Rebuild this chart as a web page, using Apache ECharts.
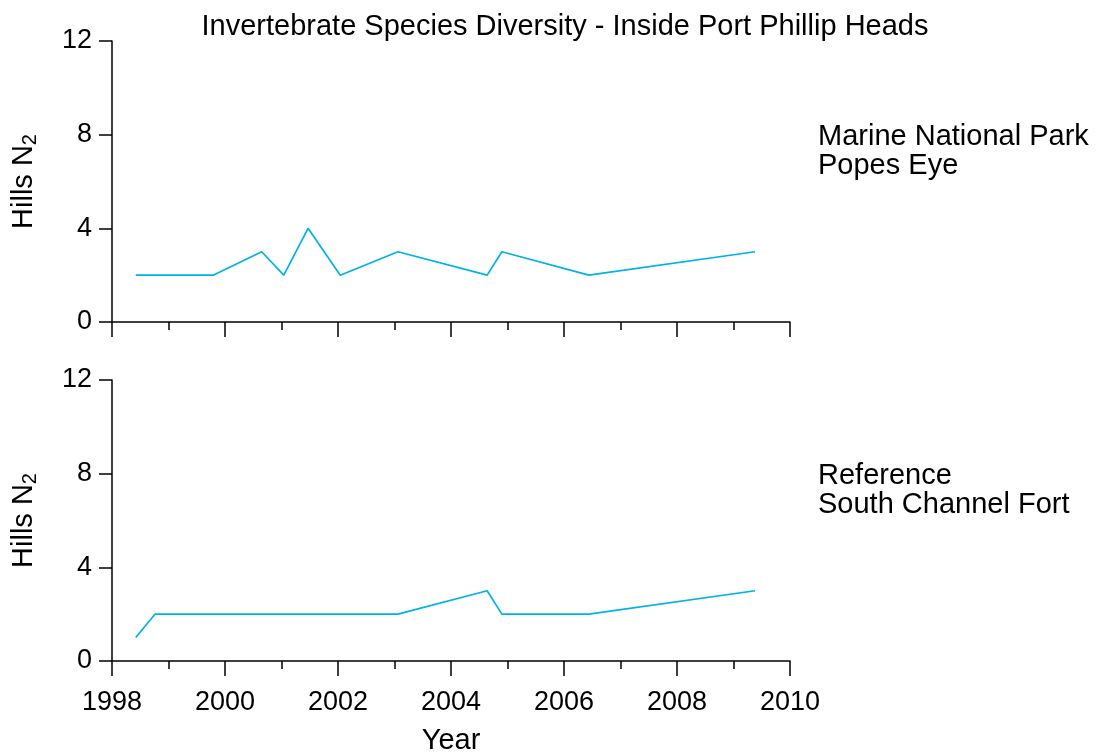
<!DOCTYPE html>
<html>
<head>
<meta charset="utf-8">
<title>Invertebrate Species Diversity</title>
<script src="https://cdn.jsdelivr.net/npm/echarts@6/dist/echarts.min.js"></script>
<style>
  html, body { margin: 0; padding: 0; background: #fff; }
  #chart { width: 1099px; height: 756px; }
</style>
</head>
<body>
<div id="chart"></div>
<script>
// Survey dates (decimal years) and Hills N2 diversity at each site
const surveyYears = [1998.42, 1998.76, 1999.43, 1999.79, 2000.65, 2001.04, 2001.47, 2002.04, 2003.06, 2004.64, 2004.90, 2006.44, 2009.38];
const popesEye = [2, 2, 2, 2, 3, 2, 4, 2, 3, 2, 3, 2, 3];
const southChannelFort = [1, 2, 2, 2, 2, 2, 2, 2, 2, 3, 2, 2, 3];

const chartTitle = 'Invertebrate Species Diversity - Inside Port Phillip Heads';
const panelLabels = ['Marine National Park\nPopes Eye', 'Reference\nSouth Channel Fort'];
const xTickLabels = ['1998', '2000', '2002', '2004', '2006', '2008', '2010'];
const yTickLabels = ['0', '4', '8', '12'];

const FONT = '"Liberation Sans", Arial, Helvetica, sans-serif';
const TEXT_SIZE = 29;
const TICK_SIZE = 27;
const LINE_COLOR = '#00b2e6';

function pairs(xs, ys) {
  return xs.map((x, i) => [x, ys[i]]);
}

function xAxisFor(gridIndex, showLabels) {
  return {
    type: 'value',
    gridIndex: gridIndex,
    min: 1998,
    max: 2010,
    interval: 2,
    axisLine: { show: true, onZero: false, lineStyle: { color: '#000', width: 1.5 } },
    axisTick: { show: true, inside: false, length: 15, lineStyle: { color: '#000', width: 1.5 } },
    minorTick: { show: true, splitNumber: 2, length: 8, lineStyle: { color: '#000', width: 1.5 } },
    splitLine: { show: false },
    minorSplitLine: { show: false },
    axisLabel: {
      show: showLabels,
      margin: 28,
      fontFamily: FONT,
      fontSize: TICK_SIZE,
      color: '#000',
      formatter: v => xTickLabels.includes(String(v)) ? String(v) : ''
    },
    name: showLabels ? 'Year' : '',
    nameLocation: 'middle',
    nameGap: 65,
    nameTextStyle: { fontFamily: FONT, fontSize: TEXT_SIZE, color: '#000' }
  };
}

function yAxisFor(gridIndex) {
  return {
    type: 'value',
    gridIndex: gridIndex,
    min: 0,
    max: 12,
    interval: 4,
    axisLine: { show: true, onZero: false, lineStyle: { color: '#000', width: 1.5 } },
    axisTick: { show: true, inside: false, length: 13, lineStyle: { color: '#000', width: 1.5 } },
    splitLine: { show: false },
    axisLabel: {
      margin: 20,
      fontFamily: FONT,
      fontSize: TICK_SIZE,
      color: '#000',
      formatter: v => yTickLabels.includes(String(v)) ? String(v) : ''
    },
    name: '{a|Hills N}{s|2}',
    nameLocation: 'middle',
    nameRotate: 90,
    nameGap: 72,
    nameTextStyle: {
      fontFamily: FONT,
      color: '#000',
      rich: {
        a: { fontFamily: FONT, fontSize: TEXT_SIZE, color: '#000', lineHeight: 32 },
        s: { fontFamily: FONT, fontSize: 20, color: '#000', lineHeight: 32, verticalAlign: 'bottom', padding: [11, 0, 0, 0] }
      }
    }
  };
}

const chart = echarts.init(document.getElementById('chart'), null, { renderer: 'canvas' });

chart.setOption({
  backgroundColor: '#ffffff',
  animation: false,
  title: {
    text: chartTitle,
    left: 560,
    top: 7,
    textAlign: 'center',
    textStyle: { fontFamily: FONT, fontSize: TEXT_SIZE, fontWeight: 'normal', color: '#000' }
  },
  grid: [
    { left: 112, right: 309, top: 41, height: 281 },
    { left: 112, right: 309, top: 380, height: 281 }
  ],
  xAxis: [xAxisFor(0, false), xAxisFor(1, true)],
  yAxis: [yAxisFor(0), yAxisFor(1)],
  series: [
    {
      type: 'line',
      xAxisIndex: 0,
      yAxisIndex: 0,
      data: pairs(surveyYears, popesEye),
      showSymbol: false,
      lineStyle: { color: LINE_COLOR, width: 1.7 },
      itemStyle: { color: LINE_COLOR }
    },
    {
      type: 'line',
      xAxisIndex: 1,
      yAxisIndex: 1,
      data: pairs(surveyYears, southChannelFort),
      showSymbol: false,
      lineStyle: { color: LINE_COLOR, width: 1.7 },
      itemStyle: { color: LINE_COLOR }
    }
  ],
  graphic: [
    {
      type: 'text',
      left: 818,
      top: 122,
      style: { text: panelLabels[0], font: TEXT_SIZE + 'px ' + FONT, fill: '#000', lineHeight: 29 }
    },
    {
      type: 'text',
      left: 818,
      top: 461,
      style: { text: panelLabels[1], font: TEXT_SIZE + 'px ' + FONT, fill: '#000', lineHeight: 29 }
    }
  ]
});
</script>
</body>
</html>
